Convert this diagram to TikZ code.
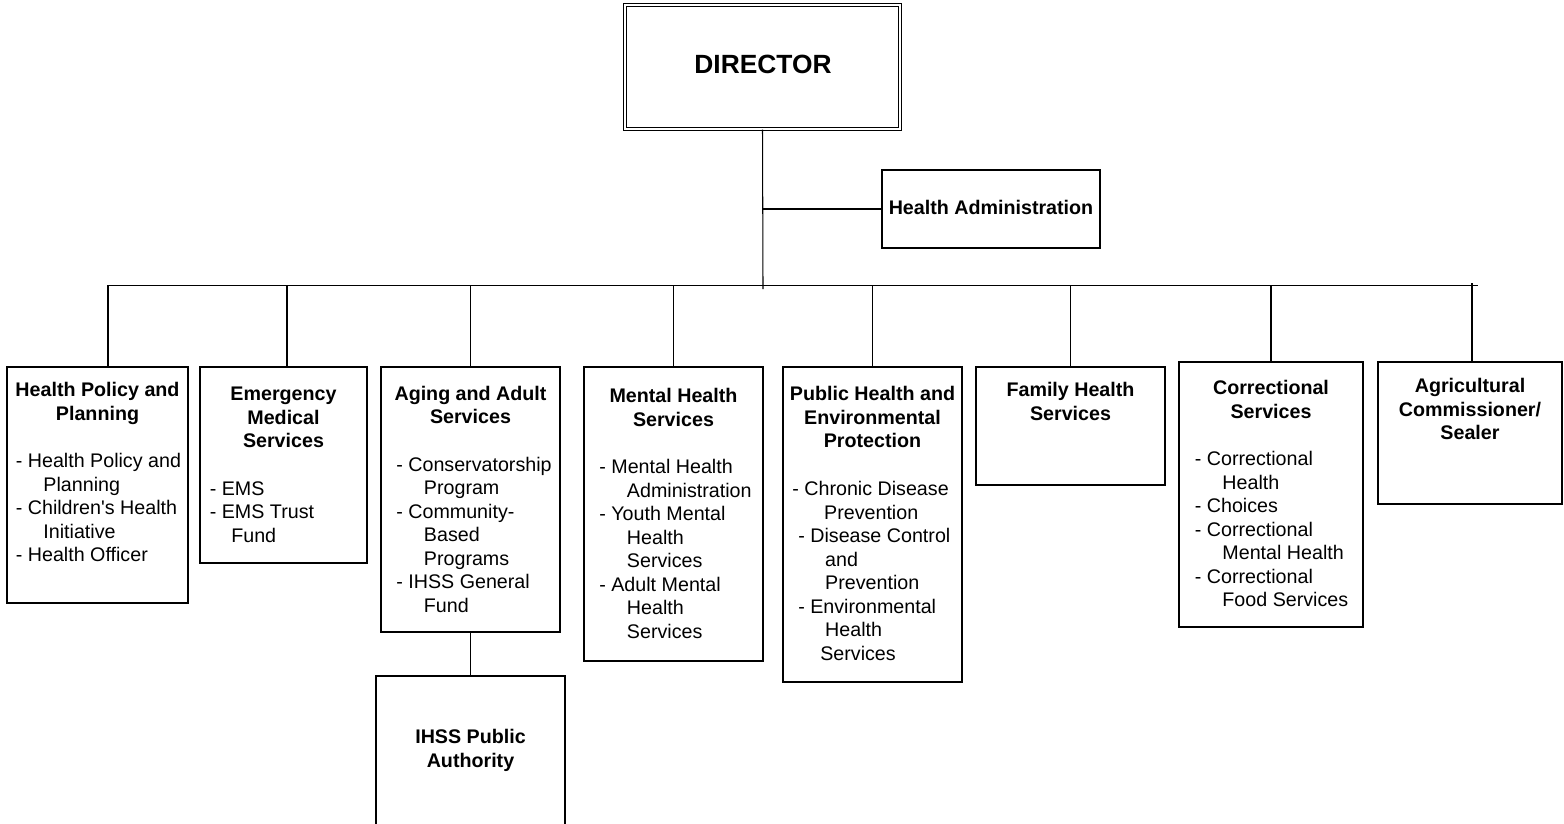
\documentclass[tikz,border=0pt]{standalone}
\usepackage{fontspec}
\setmainfont{Liberation Sans}
\usepackage{tikz}
\usetikzlibrary{positioning, fit}
\newcommand{\UnitFont}{\fontsize{11.2}{13.4}\selectfont}
\newcommand{\ind}{\hspace*{15.7pt}}

\tikzset{
    unitbox/.style = {draw, line width = 0.8pt, inner sep = 0pt},
    unithead/.style = {font = \UnitFont\bfseries, align = center, anchor = north, inner sep = 0pt},
    unitlist/.style = {font = \UnitFont, align = left, anchor = north west, inner sep = 0pt},
    link/.style = {line width = 0.6pt}
}

\begin{document}
\begin{tikzpicture}[x = 0.02cm, y = -0.02cm]
    \clip (0, 0) rectangle (1564, 823);

    % draw Director and Health Administration
    \node[unitbox, double, double distance = 0.056cm, line width = 0.6pt, fit = {(625, 5) (900, 129)}] (dir) {};
    \node[font = \fontsize{15}{18}\selectfont\bfseries, anchor = north, inner sep = 0pt] (dir-head) at (763, 55) {DIRECTOR};

    \node[unitbox, fit = {(882, 170) (1100, 248)}] (ha) {};
    \node[unithead] (ha-head) at (991, 200) {Health Administration};


    % draw bus line and its junctions
    \coordinate (busL) at (108, 285.5);
    \coordinate (busR) at (1478, 285.5);
    \coordinate (j2) at (287, 285.5);
    \coordinate (j3) at (470.5, 285.5);
    \coordinate (j4) at (673.5, 285.5);
    \coordinate (j5) at (872.5, 285.5);
    \coordinate (j6) at (1070.5, 285.5);
    \coordinate (j7) at (1271, 285.5);
    \coordinate (j8) at (1472, 283);
    \coordinate (dirEnd) at (763, 289);


    % draw division boxes
    \node[unitbox, fit = {(7, 367) (188, 603)}] (hpp) {};
    \node[unithead] (hpp-head) at (97.5, 382) {Health Policy and\\Planning};
    \node[unitlist] (hpp-list) at (15.5, 453) {- Health Policy and\\\ind Planning\\- Children\textquotesingle s Health\\\ind Initiative\\- Health Officer};

    \node[unitbox, fit = {(200, 367) (367, 563)}] (ems) {};
    \node[unithead] (ems-head) at (283.5, 387) {Emergency\\Medical\\Services};
    \node[unitlist] (ems-list) at (209.5, 481) {- EMS\\- EMS Trust\\\hspace*{12.2pt}Fund};

    \node[unitbox, fit = {(381, 367) (560, 632)}] (aas) {};
    \node[unithead] (aas-head) at (470.5, 385.5) {Aging and Adult\\Services};
    \node[unitlist] (aas-list) at (396, 456.5) {- Conservatorship\\\ind Program\\- Community-\\\ind Based\\\ind Programs\\- IHSS General\\\ind Fund};

    \node[unitbox, fit = {(376, 676) (565, 840)}] (ihss) {};
    \node[unithead] (ihss-head) at (470.5, 729) {IHSS Public\\Authority};

    \node[unitbox, fit = {(584, 367) (763, 661)}] (mhs) {};
    \node[unithead] (mhs-head) at (673.5, 388) {Mental Health\\Services};
    \node[unitlist] (mhs-list) at (599, 459) {- Mental Health\\\ind Administration\\- Youth Mental\\\ind Health\\\ind Services\\- Adult Mental\\\ind Health\\\ind Services};

    \node[unitbox, fit = {(783, 367) (962, 682)}] (phe) {};
    \node[unithead] (phe-head) at (872.5, 386) {Public Health and\\Environmental\\Protection};
    \node[unitlist] (phe-list) at (792, 481) {- Chronic Disease\\\hspace*{18.1pt}Prevention\\\hspace*{3.4pt}- Disease Control\\\hspace*{18.7pt}and\\\hspace*{18.7pt}Prevention\\\hspace*{3.4pt}- Environmental\\\hspace*{18.7pt}Health\\\hspace*{15.9pt}Services};

    \node[unitbox, fit = {(976, 367) (1165, 485)}] (fhs) {};
    \node[unithead] (fhs-head) at (1070.5, 382) {Family Health\\Services};

    \node[unitbox, fit = {(1179, 362) (1363, 627)}] (cor) {};
    \node[unithead] (cor-head) at (1271, 380) {Correctional\\Services};
    \node[unitlist] (cor-list) at (1194.5, 451) {- Correctional\\\ind Health\\- Choices\\- Correctional\\\ind Mental Health\\- Correctional\\\ind Food Services};

    \node[unitbox, fit = {(1378, 362) (1562, 504)}] (agr) {};
    \node[unithead] (agr-head) at (1470, 378) {Agricultural\\Commissioner/\\Sealer};


    % draw connectors
    \draw[link] (dir.south) -- (dirEnd);
    \draw[link] (dir.south |- ha.west) -- (ha.west);
    \draw[line width = 0.8pt] (busL |- hpp.north) -- (busL) -- (busR);

    \draw[link] (j2) -- (j2 |- ems.north);
    \draw[link] (j3) -- (aas.north);
    \draw[link] (j4) -- (mhs.north);
    \draw[link] (j5) -- (phe.north);
    \draw[link] (j6) -- (fhs.north);
    \draw[link] (j7) -- (cor.north);
    \draw[link] (j8) -- (j8 |- agr.north);
    \draw[link] (aas.south) -- (ihss.north);

\end{tikzpicture}
\end{document}
